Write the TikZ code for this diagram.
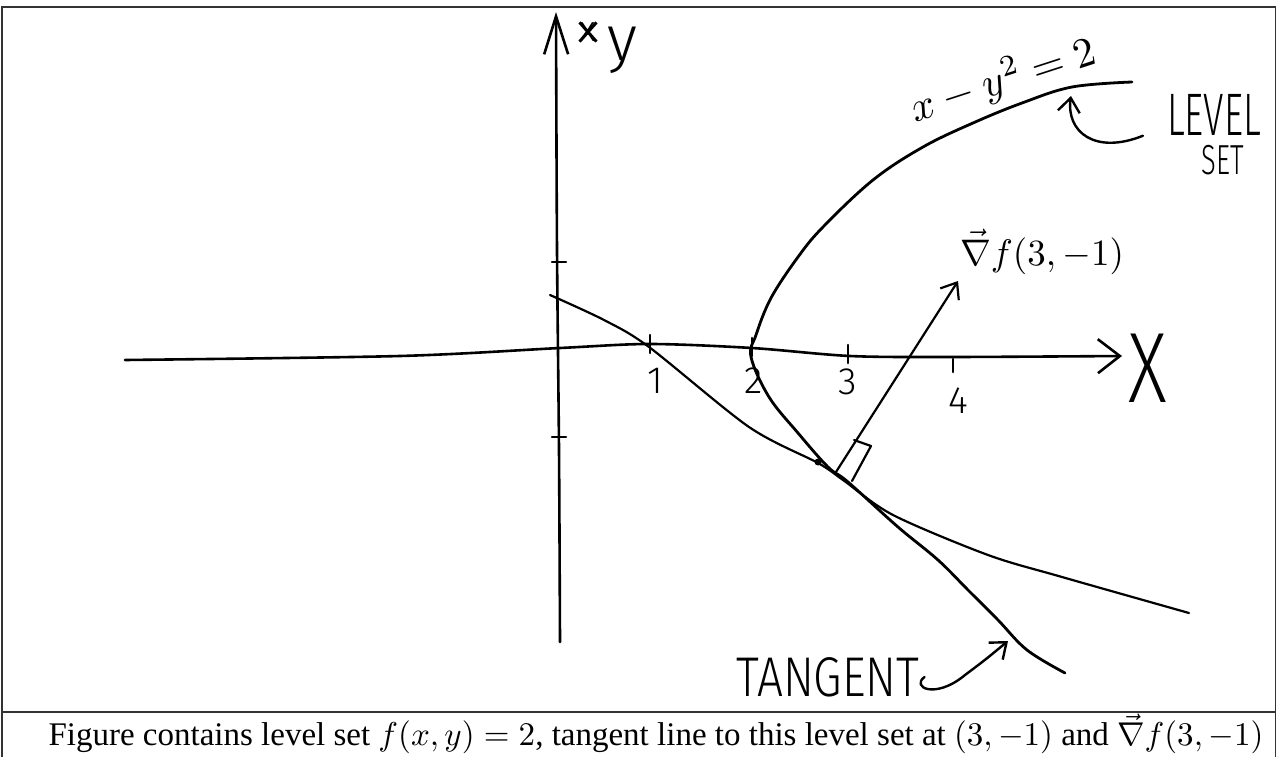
\documentclass[tikz,border=0pt]{standalone}
\usepackage{fontspec}
\setmainfont{Liberation Serif}
\newfontfamily\handfont{Fira Sans}[UprightFont=* Light]
\usetikzlibrary{arrows.meta}

\begin{document}
\begin{tikzpicture}[
  x=1pt, y=-1pt,
  frame/.style={line width=1.3pt, black!80},
  axis/.style={line width=2.6pt, line cap=round},
  curve/.style={line width=2.8pt, line cap=round, line join=round},
  hand/.style={font=\handfont\fontsize{#1}{#1}\selectfont, inner sep=0pt},
  yarr/.style={-{Straight Barb[length=38pt, width=24pt]}},
  xarr/.style={-{Straight Barb[length=22pt, width=34pt]}},
  sarr/.style={-{Straight Barb[length=14pt, width=22pt]}}
]
\useasboundingbox (0,0) rectangle (1277,757);
% frame and caption rule
\draw[frame] (2,757) -- (2,7) -- (1275.5,7) -- (1275.5,757);
\draw[frame] (2,712) -- (1275.5,712);

% axes
\draw[axis, yarr] plot[smooth] coordinates {(560,642) (559,450) (557,250) (556,12)};
\draw[axis, xarr] plot[smooth] coordinates {(125,360) (400,356) (560,348) (650,344) (752,348) (850,356) (950,357) (1122,356)};
\foreach \tx/\ty in {650/345, 752/348, 848/355}
  \draw[axis] (\tx,\ty-10) -- (\tx,\ty+8);
\draw[axis] (953,359) -- (953,372);
\foreach \ty in {262, 437}
  \draw[axis] (552,\ty) -- (566,\ty);

\node[hand=38] (one) at (655,381) {1};
\node[hand=38] (two) at (754,381) {2};
\node[hand=38] (three) at (848,382) {3};
\node[hand=38] (four) at (958,401) {4};
\node[hand=100, xscale=0.75] (xlab) at (1148,368) {X};
\node[hand=64] (ylab) at (622,50) {y};
\node[hand=36] (xold) at (588,32) {x};
\draw[line width=3pt] (xold.north west) -- (xold.south east);
\draw[line width=3pt] (xold.north east) -- (xold.south west);

% level set x - y^2 = 2
\draw[curve] plot[smooth, tension=0.6] coordinates {(1132,82) (1072,87) (1022,103) (973,123) (923,147) (873,180) (823,227) (798,257) (771,298) (756,335) (751,357) (769,397) (798,433) (828,467) (848,482) (898,527) (938,560) (968,590) (998,620) (1027,650) (1065,673)};

% tangent line
\draw[curve, line width=2.2pt] plot[smooth] coordinates {(550,295) (604,320) (649,347) (749,427) (818,463) (843,480) (893,515) (988,555) (1062,577) (1189,613)};
\fill (818,462) circle (3.5);

% gradient
\coordinate (P) at (836,472);
\coordinate (G) at (958,281);
\draw[curve, line width=2.2pt, sarr] (P) -- (G);
\draw[curve, line width=2.2pt] (854,440) -- (871,446) -- (852,481);

% labels
\node[rotate=18, scale=4.2] (eqlab) at (1003,80) {$x-y^2=2$};
\node[scale=3.7] (gradlab) at (1042,252) {$\vec{\nabla} f(3,-1)$};
\node[hand=60, xscale=0.62] (level) at (1214,115) {LEVEL};
\node[hand=42, xscale=0.65] (set) at (1223,160) {SET};
\coordinate (levtip) at (1071,96);
\draw[curve, line width=2.4pt, sarr] ([xshift=-24pt]level.south west) .. controls (1095,155) and (1066,132) .. (levtip);
\node[hand=56, xscale=0.82] (tangent) at (828,677) {TANGENT};
\coordinate (tantip) at (1008,641);
\draw[curve, line width=2.4pt, sarr] ([xshift=5pt]tangent.east) .. controls +(-14,10) and (935,700) .. (965,675) .. controls (985,660) .. (tantip);

\node[scale=3.3] (caption) at (656,734) {Figure contains level set $f(x,y)=2$, tangent line to this level set at $(3,-1)$ and $\vec{\nabla}f(3,-1)$};
\end{tikzpicture}
\end{document}
